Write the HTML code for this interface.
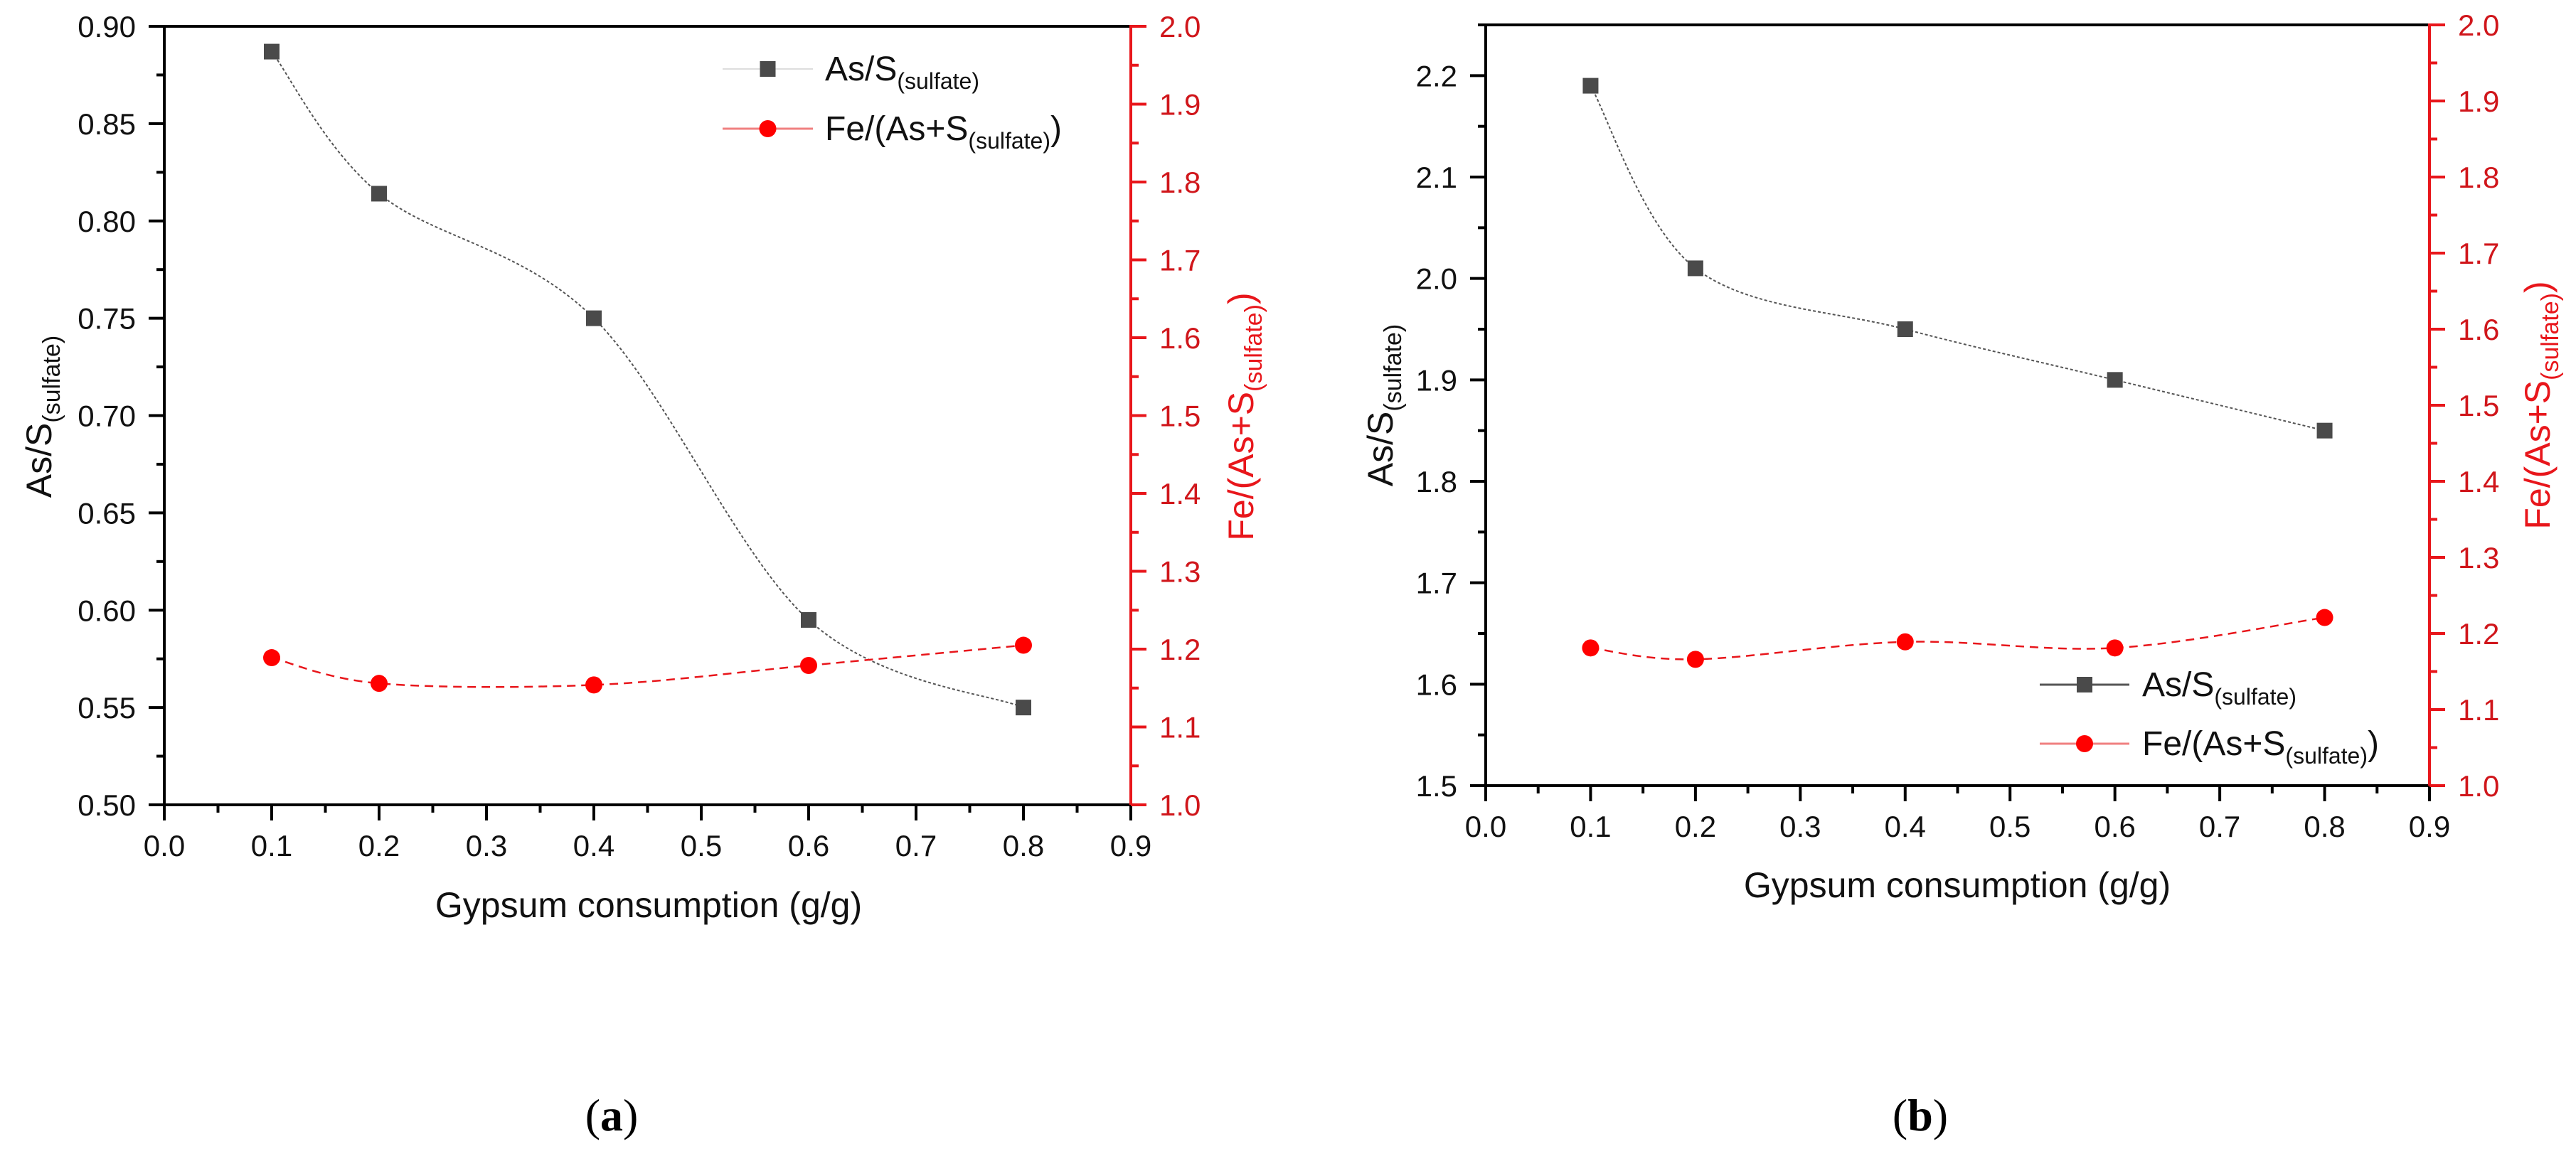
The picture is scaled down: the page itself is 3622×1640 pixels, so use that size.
<!DOCTYPE html>
<html><head><meta charset="utf-8">
<style>
html,body{margin:0;padding:0;background:#fff;}
svg{display:block;font-family:"Liberation Sans",Arial,sans-serif;}
</style></head>
<body>
<svg id="fig" width="3622" height="1640" viewBox="0 0 3622 1640"></svg>
<script>
const xCats = [0.1, 0.2, 0.4, 0.6, 0.8];
const xTicks = [0.0,0.1,0.2,0.3,0.4,0.5,0.6,0.7,0.8,0.9];
const asA = [0.887, 0.814, 0.750, 0.595, 0.550];
const feA = [1.189, 1.156, 1.154, 1.179, 1.205];
const asB = [2.19, 2.01, 1.95, 1.90, 1.85];
const feB = [1.181, 1.166, 1.189, 1.181, 1.221];
const leftTicksA = [0.50,0.55,0.60,0.65,0.70,0.75,0.80,0.85,0.90];
const leftTicksB = [1.5,1.6,1.7,1.8,1.9,2.0,2.1,2.2];
const rightTicks = [1.0,1.1,1.2,1.3,1.4,1.5,1.6,1.7,1.8,1.9,2.0];

const NS="http://www.w3.org/2000/svg";
const svg=document.getElementById('fig');
function mk(tag,attrs,parent){const e=document.createElementNS(NS,tag);for(const k in attrs)e.setAttribute(k,attrs[k]);(parent||svg).appendChild(e);return e;}

function spline(pts){
  let d="M"+pts[0][0]+","+pts[0][1];
  for(let i=0;i<pts.length-1;i++){
    const p0=pts[i-1]||pts[i],p1=pts[i],p2=pts[i+1],p3=pts[i+2]||p2;
    const c1=[p1[0]+(p2[0]-p0[0])/6,p1[1]+(p2[1]-p0[1])/6];
    const c2=[p2[0]-(p3[0]-p1[0])/6,p2[1]-(p3[1]-p1[1])/6];
    d+=" C"+c1[0]+","+c1[1]+" "+c2[0]+","+c2[1]+" "+p2[0]+","+p2[1];
  }
  return d;
}

function panel(cfg){
  const g=mk('g',{});
  
  
  const X=v=>cfg.x0+(v-0)/(0.9)*(cfg.x1-cfg.x0);
  const YL=v=>cfg.yb-(v-cfg.lmin)/(cfg.lmax-cfg.lmin)*(cfg.yb-cfg.yt);
  const YR=v=>cfg.yb-(v-1.0)/(1.0)*(cfg.yb-cfg.yt);
  // frame
  const top=mk('line',{x1:cfg.x0,y1:cfg.yt,x2:cfg.x1,y2:cfg.yt,stroke:'#000','stroke-width':4},g);
  
  const bot=mk('line',{x1:cfg.x0,y1:cfg.yb,x2:cfg.x1,y2:cfg.yb,stroke:'#000','stroke-width':4},g);
  
  const la=mk('line',{x1:cfg.x0,y1:cfg.yt-2,x2:cfg.x0,y2:cfg.yb+2,stroke:'#000','stroke-width':4},g);
  
  const ra=mk('line',{x1:cfg.x1,y1:cfg.yt-2,x2:cfg.x1,y2:cfg.yb+2,stroke:'#e8161b','stroke-width':4},g);
  
  // x ticks
  xTicks.forEach((v,i)=>{
    const x=X(v);
    mk('line',{x1:x,y1:cfg.yb,x2:x,y2:cfg.yb+22,stroke:'#000','stroke-width':4},g);
    if(i<xTicks.length-1) mk('line',{x1:X(v+0.05),y1:cfg.yb,x2:X(v+0.05),y2:cfg.yb+11,stroke:'#000','stroke-width':4},g);
    const t=mk('text',{x:x,y:cfg.yb+72,'font-size':42,'text-anchor':'middle',fill:'#111'},g);
    t.textContent=v.toFixed(1);
    
  });
  // left ticks
  const lt=cfg.lticks;
  lt.forEach((v,i)=>{
    const y=YL(v);
    mk('line',{x1:cfg.x0-22,y1:y,x2:cfg.x0,y2:y,stroke:'#000','stroke-width':4},g);
    if(i<lt.length-1){const ym=YL((v+lt[i+1])/2);mk('line',{x1:cfg.x0-11,y1:ym,x2:cfg.x0,y2:ym,stroke:'#000','stroke-width':4},g);}
    const t=mk('text',{x:cfg.x0-40,y:y+15,'font-size':42,'text-anchor':'end',fill:'#111'},g);
    t.textContent=v.toFixed(cfg.ldec);
    
  });
  if(cfg.lextra){const ym=YL(cfg.lextra);mk('line',{x1:cfg.x0-11,y1:ym,x2:cfg.x0,y2:ym,stroke:'#000','stroke-width':4},g);}
  // right ticks
  rightTicks.forEach((v,i)=>{
    const y=YR(v);
    mk('line',{x1:cfg.x1,y1:y,x2:cfg.x1+22,y2:y,stroke:'#e8161b','stroke-width':4},g);
    if(i<rightTicks.length-1){const ym=YR(v+0.05);mk('line',{x1:cfg.x1,y1:ym,x2:cfg.x1+11,y2:ym,stroke:'#e8161b','stroke-width':4},g);}
    const t=mk('text',{x:cfg.x1+40,y:y+15,'font-size':42,'text-anchor':'start',fill:'#d0161b'},g);
    t.textContent=v.toFixed(1);
    
  });
  // series
  const pa=xCats.map((x,i)=>[X(x),YL(cfg.as[i])]);
  const pf=xCats.map((x,i)=>[X(x),YR(cfg.fe[i])]);
  const l1=mk('path',{d:spline(pa),fill:'none',stroke:'#555','stroke-width':2,'stroke-dasharray':'4 3'},g);
  
  const l2=mk('path',{d:spline(pf),fill:'none',stroke:'#e8161b','stroke-width':2.5,'stroke-dasharray':'12 8'},g);
  
  pa.forEach(p=>{const r=mk('rect',{x:p[0]-11,y:p[1]-11,width:22,height:22,fill:'#4a4a4a'},g);
    });
  pf.forEach(p=>{const c=mk('circle',{cx:p[0],cy:p[1],r:12,fill:'#f00'},g);
    });
  // titles
  const xt=mk('text',{x:cfg.xtX,y:cfg.xtY,'font-size':50,'text-anchor':'middle',fill:'#111'},g);
  xt.textContent='Gypsum consumption (g/g)';
  
  const yl=mk('text',{transform:`translate(${cfg.ylX},${cfg.ylY}) rotate(-90)`,'font-size':50,'text-anchor':'middle',fill:'#111'},g);
  yl.innerHTML='As/S<tspan font-size="34" dy="12">(sulfate)</tspan>';
  
  const yr=mk('text',{transform:`translate(${cfg.yrX},${cfg.yrY}) rotate(-90)`,'font-size':50,'text-anchor':'middle',fill:'#e8161b'},g);
  yr.innerHTML='Fe/(As+S<tspan font-size="34" dy="12">(sulfate)</tspan><tspan dy="-12">)</tspan>';
  
  // legend
  const lg=mk('g',{},g);
  
  const L=cfg.leg;
  mk('line',{x1:L.x1,y1:L.y1,x2:L.x2,y2:L.y1,stroke:cfg.legSolid?'#555':'#ddd','stroke-width':cfg.legSolid?3:2},lg);
  mk('rect',{x:(L.x1+L.x2)/2-11,y:L.y1-11,width:22,height:22,fill:'#4a4a4a'},lg);
  const t1=mk('text',{x:L.tx,y:L.y1+16,'font-size':48,fill:'#111'},lg);
  t1.innerHTML='As/S<tspan font-size="32" dy="12">(sulfate)</tspan>';
  
  mk('line',{x1:L.x1,y1:L.y2,x2:L.x2,y2:L.y2,stroke:'#f08080','stroke-width':3},lg);
  mk('circle',{cx:(L.x1+L.x2)/2,cy:L.y2,r:12,fill:'#f00'},lg);
  const t2=mk('text',{x:L.tx,y:L.y2+16,'font-size':48,fill:'#111'},lg);
  t2.innerHTML='Fe/(As+S<tspan font-size="32" dy="12">(sulfate)</tspan><tspan dy="-12">)</tspan>';
  
  // caption
  const cap=mk('text',{x:cfg.capX,y:1590,'font-size':64,'text-anchor':'middle','font-family':'"Liberation Serif",serif',fill:'#000'},g);
  cap.innerHTML='(<tspan font-weight="bold">'+cfg.cap+'</tspan>)';
  
}

panel({name:'panel-a',x0:231,x1:1590,yt:37,yb:1132,lmin:0.5,lmax:0.9,lticks:leftTicksA,ldec:2,
  as:asA,fe:feA,xtX:912,xtY:1290,ylX:72,ylY:586,yrX:1762,yrY:586,
  leg:{x1:1016,x2:1143,y1:97,y2:181,tx:1160},legSolid:false,capX:860,cap:'a'});
panel({name:'panel-b',x0:2089,x1:3416,yt:35,yb:1105,lmin:1.5,lmax:2.25,lticks:leftTicksB,ldec:1,lextra:2.25,
  as:asB,fe:feB,xtX:2752,xtY:1262,ylX:1958,ylY:570,yrX:3585,yrY:570,
  leg:{x1:2868,x2:2994,y1:963,y2:1046,tx:3012},legSolid:true,capX:2700,cap:'b'});
</script>
</body></html>
